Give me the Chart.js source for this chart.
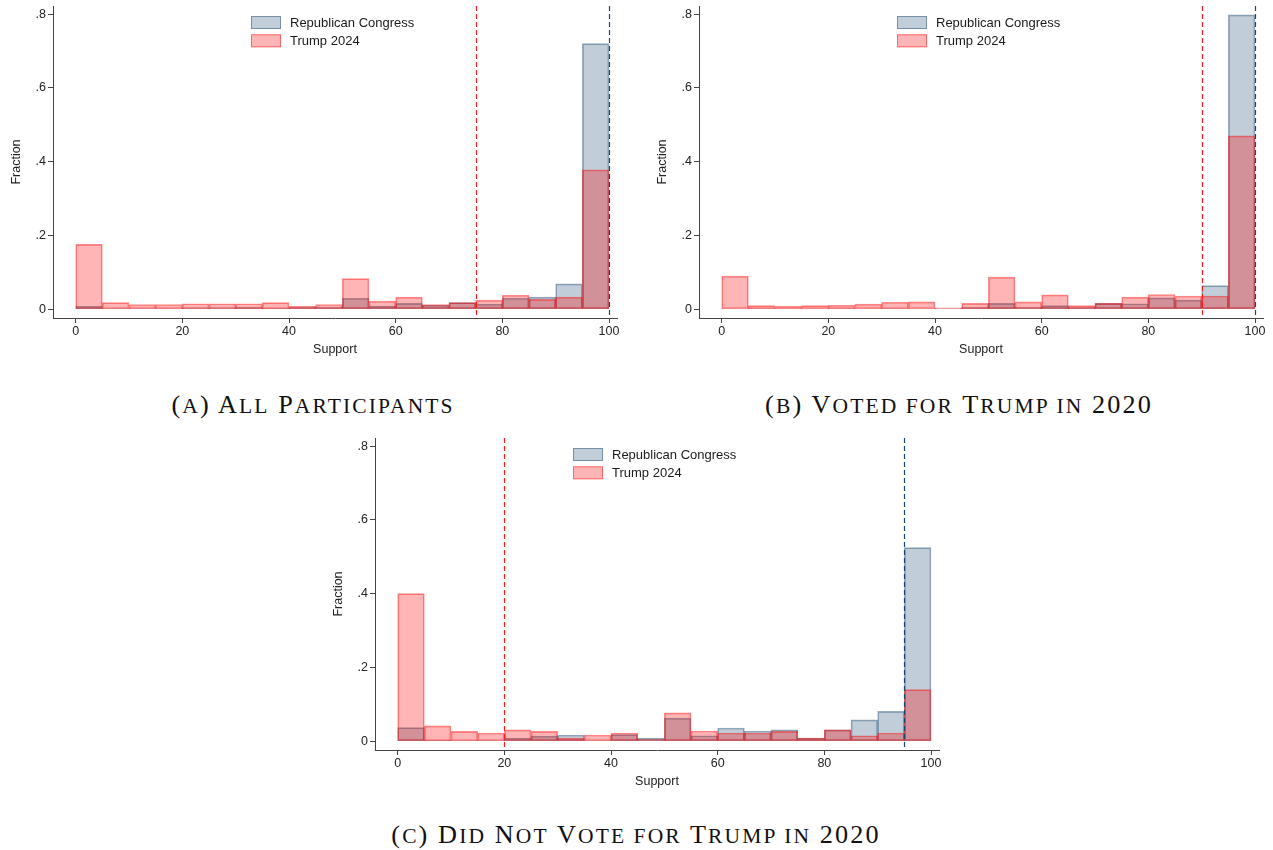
<!DOCTYPE html>
<html>
<head>
<meta charset="utf-8">
<script src="https://cdn.jsdelivr.net/npm/chart.js@4.4.1/dist/chart.umd.min.js"></script>
<style>
  html, body { margin: 0; padding: 0; background: #fff; width: 1273px; height: 850px; overflow: hidden; }
  .panel { position: absolute; width: 640px; height: 380px; }
  .caption {
    position: absolute;
    font-family: "Liberation Serif", "DejaVu Serif", serif;
    font-size: 25px;
    letter-spacing: 2px;
    color: #111;
    white-space: nowrap;
    line-height: 1;
    transform: translateX(-50%) scaleX(1.05);
  }
  .caption .sc { font-size: 0.82em; text-transform: uppercase; }
</style>
</head>
<body>
<div class="panel" style="left:0px;top:0px"><canvas id="panelA" width="640" height="380"></canvas></div>
<div class="panel" style="left:646px;top:0px"><canvas id="panelB" width="640" height="380"></canvas></div>
<div class="panel" style="left:322px;top:432px"><canvas id="panelC" width="640" height="380"></canvas></div>
<div class="caption" style="left:313px;top:392px">(<span class="sc">a</span>) A<span class="sc">ll</span> P<span class="sc">articipants</span></div>
<div class="caption" style="left:959px;top:392px">(<span class="sc">b</span>) V<span class="sc">oted for</span> T<span class="sc">rump in</span> 2020</div>
<div class="caption" style="left:636px;top:822px">(<span class="sc">c</span>) D<span class="sc">id</span> N<span class="sc">ot</span> V<span class="sc">ote for</span> T<span class="sc">rump in</span> 2020</div>

<script>
// Support bins (0-5, 5-10, ..., 95-100), plotted at bin centres
const binCenters = [2.5, 7.5, 12.5, 17.5, 22.5, 27.5, 32.5, 37.5, 42.5, 47.5,
                    52.5, 57.5, 62.5, 67.5, 72.5, 77.5, 82.5, 87.5, 92.5, 97.5];
const xTicks = [0, 20, 40, 60, 80, 100];
const yTicks = [0, 0.2, 0.4, 0.6, 0.8];

// (a) All participants — fraction of respondents per bin
const congressAll = [0.008, 0.002, 0.002, 0.002, 0.004, 0.004, 0.006, 0.003, 0.006, 0.006,
                     0.030, 0.009, 0.016, 0.011, 0.018, 0.014, 0.030, 0.033, 0.069, 0.720];
const trumpAll    = [0.176, 0.018, 0.013, 0.013, 0.015, 0.015, 0.015, 0.018, 0.008, 0.013,
                     0.083, 0.022, 0.033, 0.013, 0.018, 0.025, 0.038, 0.027, 0.033, 0.378];

// (b) Voted for Trump in 2020
const congressVoted = [0.001, 0.002, 0.001, 0.001, 0.002, 0.001, 0.002, 0.001, 0.002, 0.006,
                       0.016, 0.006, 0.010, 0.006, 0.016, 0.015, 0.031, 0.025, 0.064, 0.798];
const trumpVoted    = [0.090, 0.010, 0.008, 0.010, 0.011, 0.014, 0.019, 0.020, 0.004, 0.016,
                       0.087, 0.020, 0.039, 0.010, 0.016, 0.033, 0.040, 0.036, 0.036, 0.470];

// (c) Did not vote for Trump in 2020
const congressNot = [0.037, 0.003, 0.002, 0.002, 0.009, 0.014, 0.017, 0.002, 0.018, 0.009,
                     0.063, 0.015, 0.036, 0.028, 0.031, 0.009, 0.031, 0.058, 0.081, 0.525];
const trumpNot    = [0.400, 0.042, 0.027, 0.0225, 0.031, 0.027, 0.009, 0.017, 0.0225, 0.005,
                     0.077, 0.028, 0.0225, 0.0225, 0.027, 0.009, 0.031, 0.015, 0.0225, 0.140];

// Dashed reference lines (median support) per panel
const trumpMedian    = [75, 90, 20];
const congressMedian = [100, 100, 95];

const seriesLabels = ['Republican Congress', 'Trump 2024'];

const NAVY_FILL = 'rgba(26,71,111,0.27)';
const NAVY_EDGE = 'rgba(26,71,111,0.45)';
const RED_FILL  = 'rgba(255,0,0,0.29)';
const RED_EDGE  = 'rgba(255,0,0,0.45)';
const AXIS = '#444';
const SANS = '"Liberation Sans", Arial, sans-serif';

// Draws the dashed median lines and the in-plot legend
const overlayPlugin = {
  id: 'overlay',
  afterDatasetsDraw(chart, args, opts) {
    const { ctx, chartArea: a, scales: { x } } = chart;
    ctx.save();
    ctx.lineWidth = 1.2;
    ctx.setLineDash([5, 3]);
    opts.lines.forEach(l => {
      const px = Math.round(x.getPixelForValue(l.value)) + 0.5;
      ctx.strokeStyle = l.color;
      ctx.beginPath();
      ctx.moveTo(px, a.top);
      ctx.lineTo(px, a.bottom);
      ctx.stroke();
    });
    ctx.restore();
  },
  afterDraw(chart) {
    const { ctx, chartArea: a } = chart;
    ctx.save();
    const bx = a.left + 198, by = a.top + 10;
    chart.data.datasets.forEach((ds, i) => {
      const top = by + i * 18.3;
      ctx.fillStyle = '#fff';
      ctx.fillRect(bx, top, 30, 13);
      ctx.fillStyle = ds.backgroundColor;
      ctx.fillRect(bx, top, 30, 13);
      ctx.strokeStyle = ds.borderColor;
      ctx.lineWidth = 1;
      ctx.strokeRect(bx + 0.5, top + 0.5, 29, 12);
      ctx.fillStyle = '#1a1a1a';
      ctx.font = '13px ' + SANS;
      ctx.textBaseline = 'middle';
      ctx.fillText(ds.label, bx + 39, top + 7);
    });
    ctx.restore();
  }
};

function makePanel(id, congress, trump, idx) {
  const toPoints = arr => binCenters.map((c, i) => ({ x: c, y: arr[i] }));
  new Chart(document.getElementById(id), {
    type: 'bar',
    data: {
      datasets: [
        { label: seriesLabels[0], data: toPoints(congress), backgroundColor: NAVY_FILL,
          borderColor: NAVY_EDGE, borderWidth: 1, order: 1 },
        { label: seriesLabels[1], data: toPoints(trump), backgroundColor: RED_FILL,
          borderColor: RED_EDGE, borderWidth: 1, order: 0 }
      ]
    },
    plugins: [overlayPlugin],
    options: {
      responsive: false,
      animation: false,
      layout: { padding: { top: 6, right: 23, bottom: 10, left: 0 } },
      datasets: { bar: { grouped: false, barPercentage: 1, categoryPercentage: 1, borderSkipped: false } },
      plugins: {
        legend: { display: false },
        tooltip: { enabled: false },
        overlay: { lines: [
          { value: trumpMedian[idx], color: '#ff1a1a' },
          { value: congressMedian[idx], color: '#1a476f' }
        ] }
      },
      scales: {
        x: {
          type: 'linear', min: -4.25, max: 101.5, offset: false,
          afterBuildTicks: s => { s.ticks = xTicks.map(v => ({ value: v })); },
          afterFit: s => { s.height = 52; s.paddingLeft = 0; s.paddingRight = 0; },
          grid: { offset: false, drawOnChartArea: false, drawTicks: true, tickLength: 5, color: AXIS, lineWidth: 1 },
          border: { color: AXIS, width: 1 },
          ticks: { padding: 1, color: '#222', autoSkip: false, maxRotation: 0,
                   font: { family: SANS, size: 12.5 }, callback: v => String(v) },
          title: { display: true, text: 'Support', color: '#222',
                   font: { family: SANS, size: 12.5 }, padding: { top: 0, bottom: 13 } }
        },
        y: {
          type: 'linear', min: -0.0236, max: 0.822,
          afterBuildTicks: s => { s.ticks = yTicks.map(v => ({ value: v })); },
          afterFit: s => { s.width = 53; s.paddingTop = 0; s.paddingBottom = 0; },
          grid: { drawOnChartArea: false, drawTicks: true, tickLength: 5, color: AXIS, lineWidth: 1 },
          border: { color: AXIS, width: 1 },
          ticks: { padding: 2, color: '#222', autoSkip: false,
                   font: { family: SANS, size: 12.5 },
                   callback: v => v === 0 ? '0' : v.toFixed(1).replace(/^0/, '') },
          title: { display: true, text: 'Fraction', color: '#222',
                   font: { family: SANS, size: 12.5 }, padding: { top: 9, bottom: 0 } }
        }
      }
    }
  });
}

makePanel('panelA', congressAll, trumpAll, 0);
makePanel('panelB', congressVoted, trumpVoted, 1);
makePanel('panelC', congressNot, trumpNot, 2);
</script>
</body>
</html>
